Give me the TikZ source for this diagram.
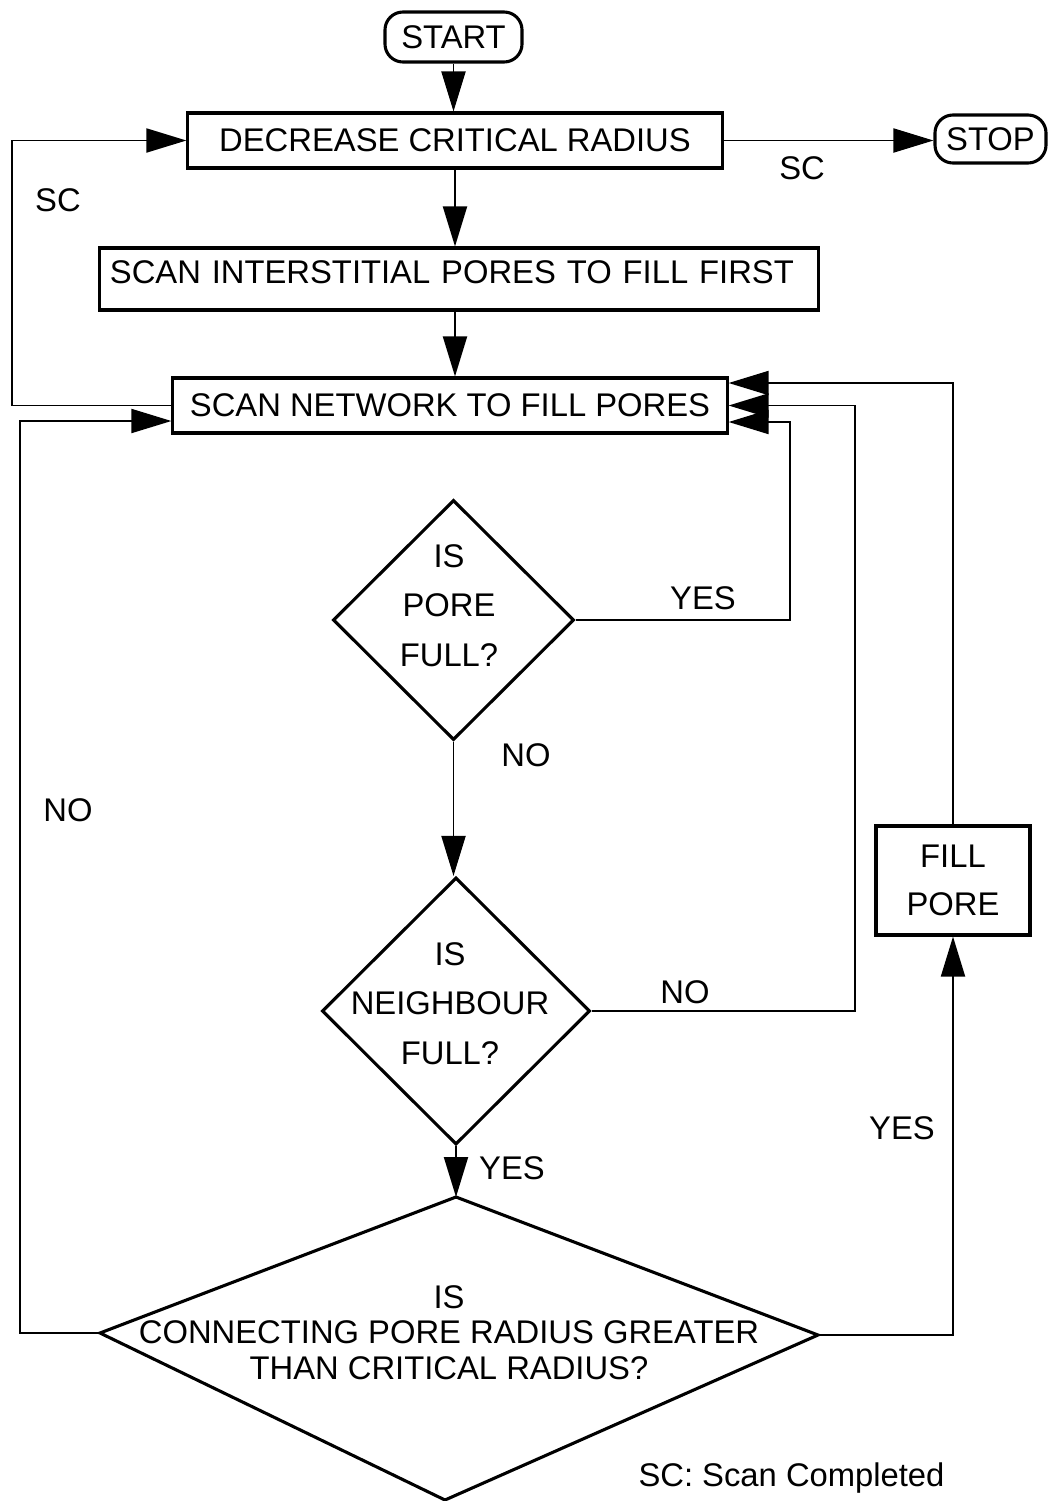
\documentclass[tikz,border=0pt]{standalone}
\usepackage{fontspec}
\setmainfont{Liberation Sans}
\usetikzlibrary{arrows.meta,shapes.geometric,calc}
\begin{document}
\begin{tikzpicture}[x=0.025cm,y=-0.025cm,
  txt/.style={font=\fontsize{23.3}{28}\selectfont},
  box/.style={draw,line width=2.2pt,rectangle,inner sep=0pt,txt},
  term/.style={box,rounded corners=0.45cm},
  dia/.style={draw,diamond,line width=2.2pt,inner sep=0pt},
  arr/.style={line width=1.4pt,-{Triangle[length=1cm,width=0.6cm]}},
  ln/.style={line width=1.4pt},
  lbl/.style={txt,inner sep=0pt},
  diatxt/.style={inner sep=0pt,align=center,font=\fontsize{23.3}{35.2}\selectfont}]
\useasboundingbox (0,0) rectangle (1048,1501);

% boxes
\node[term,minimum width=3.425cm,minimum height=1.25cm] (start) at (453.5,37) {START};
\node[box,minimum width=13.35cm,minimum height=1.375cm] (dec) at (455,140.5) {DECREASE CRITICAL RADIUS};
\node[term,minimum width=2.775cm,minimum height=1.2cm] (stop) at (990.5,139) {STOP};
\node[box,inner xsep=0.25cm,text width=17.45cm,align=left,text height=0.875cm,text depth=0.675cm] (inter) at (459,279) {SCAN INTERSTITIAL PORES TO FILL FIRST};
\node[box,minimum width=13.85cm,minimum height=1.375cm] (net) at (450,405.5) {SCAN NETWORK TO FILL PORES};
\node[box,minimum width=3.85cm,minimum height=2.725cm,align=center,font=\fontsize{23.3}{34}\selectfont] (fill) at (953,880.5) {FILL\\PORE};

% decisions
\node[dia,minimum width=6.025cm,minimum height=6cm] (d1) at (453.5,620) {};
\node[diatxt] (d1t) at (449,605.5) {IS\\PORE\\FULL?};
\node[dia,minimum width=6.7cm,minimum height=6.675cm] (d2) at (456,1011) {};
\node[diatxt] (d2t) at (450,1003.5) {IS\\NEIGHBOUR\\FULL?};
\coordinate (d3t) at (456,1197);
\coordinate (d3r) at (818,1335);
\coordinate (d3b) at (445,1500);
\coordinate (d3l) at (100,1333);
\draw[line width=2.2pt,line join=miter] (d3t) -- (d3r) -- (d3b) -- (d3l) -- cycle;
\node[inner sep=0pt,align=center,font=\fontsize{23.3}{25.2}\selectfont] (d3txt) at (449,1332.5) {IS\\CONNECTING PORE RADIUS GREATER\\THAN CRITICAL RADIUS?};

% helper coordinates
\coordinate (scL) at (12,0);
\coordinate (noL) at (20,0);
\coordinate (yesR) at (790,0);
\coordinate (nbR) at (855,0);
\coordinate (n1) at ($(net.east)+(0,-22.5)$);
\coordinate (n2) at (net.east);
\coordinate (n3) at ($(net.east)+(0,16.5)$);
\coordinate (w1) at ($(net.west)+(0,15.5)$);

% connectors
\draw[arr] (start.south) -- (start.south |- dec.north);
\draw[arr] (dec.east) -- (dec.east -| stop.west);
\draw[arr] (dec.south) -- (dec.south |- inter.north);
\draw[arr] (dec.south |- inter.south) -- (dec.south |- net.north);
\draw[arr] (net.west) -- (net.west -| scL) -- (scL |- dec.west) -- (dec.west);
\draw[arr] (d3l) -- (d3l -| noL) -- (noL |- w1) -- (w1);
\draw[arr] (d1.east) -- (d1.east -| yesR) -- (yesR |- n3) -- (n3);
\draw[arr] (d2.east) -- (d2.east -| nbR) -- (nbR |- n2) -- (n2);
\draw[arr] (fill.north) -- (fill.north |- n1) -- (n1);
\draw[arr] (d3r) -- (d3r -| fill.south) -- (fill.south);
\draw[arr] (d1.south) -- (d1.south |- d2.north);
\draw[arr] (d2.south) -- (d3t);

% labels
\node[lbl] (l1) at (802,168) {SC};
\node[lbl] (l2) at (58,200) {SC};
\node[lbl] (l3) at (703,598) {YES};
\node[lbl] (l4) at (526,755) {NO};
\node[lbl] (l5) at (68,810) {NO};
\node[lbl] (l6) at (685,992) {NO};
\node[lbl] (l7) at (512,1168) {YES};
\node[lbl] (l8) at (902,1128) {YES};
\node[lbl] (l9) at (791.5,1478) {SC: Scan Completed};
\end{tikzpicture}
\end{document}
